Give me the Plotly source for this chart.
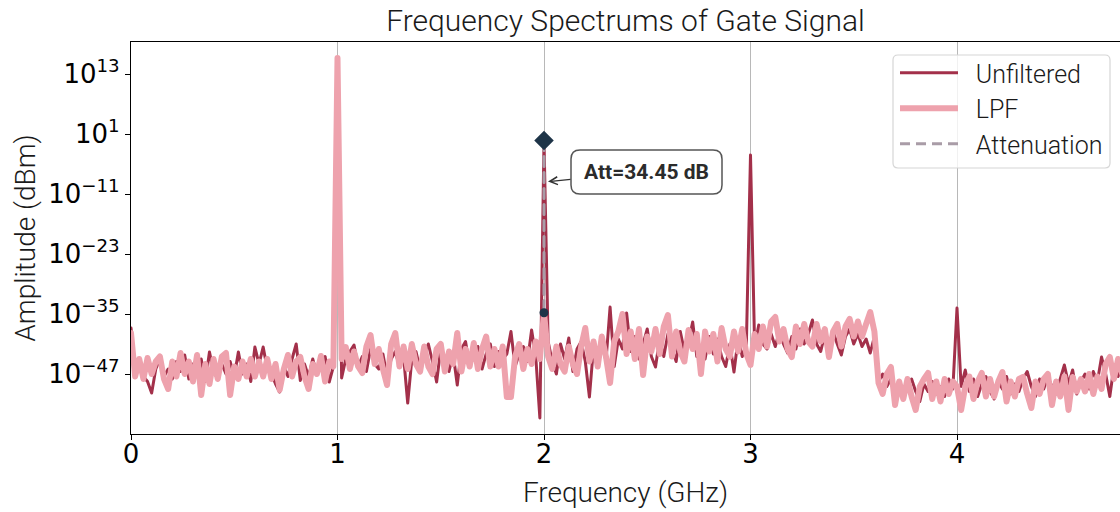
import plotly.graph_objects as go

# Spectrum sample spacing (GHz)
FREQ_STEP_GHZ = 0.02

# log10 of the amplitude, one value per frequency bin (0.00 ... 4.80 GHz),
# one row per 0.2 GHz
unfiltered_exp = [
    -37.8, -46.5, -45.0, -47.5, -48.5, -50.8, -46.0, -44.0, -47.5, -46.0,
    -48.0, -44.5, -46.5, -43.2, -48.0, -45.0, -47.0, -44.0, -48.5, -42.6,
    -46.5, -48.0, -45.0, -47.0, -44.5, -47.5, -42.6, -47.0, -45.0, -48.5,
    -41.6, -45.0, -41.6, -46.0, -47.0, -49.0, -50.6, -45.5, -47.5, -44.0,
    -41.0, -48.3, -45.0, -47.5, -44.0, -47.0, -45.0, -43.5, -48.6, -45.5,
    16.2, -47.8, -44.0, -42.5, -41.2, -45.5, -43.5, -46.5, -42.0, -45.0,
    -46.0, -43.0, -47.5, -44.0, -42.5, -45.5, -43.5, -52.8, -44.0, -42.5,
    -46.0, -43.0, -41.0, -44.5, -48.6, -42.0, -44.5, -46.5, -43.0, -49.2,
    -42.0, -40.5, -45.5, -43.5, -41.5, -46.0, -43.0, -41.0, -45.5, -42.5,
    -44.0, -43.0, -38.5, -45.5, -43.0, -41.5, -44.5, -38.2, -43.5, -55.8,
    -0.3, -40.5, -44.5, -47.0, -41.0, -44.0, -39.8, -46.5, -42.0, -40.5,
    -44.5, -51.6, -41.5, -43.5, -40.0, -44.5, -33.6, -45.5, -40.0, -42.0,
    -34.8, -42.5, -39.5, -44.0, -41.0, -38.0, -43.5, -45.6, -40.0, -43.5,
    -39.0, -42.0, -44.5, -38.5, -42.5, -40.5, -36.6, -43.5, -41.5, -44.0,
    -39.5, -43.0, -40.0, -43.5, -45.5, -41.0, -46.6, -40.0, -43.5, -41.0,
    -3.2, -41.5, -37.2, -41.0, -42.0, -39.0, -41.5, -38.5, -41.0, -42.8,
    -39.5, -42.0, -38.0, -41.0, -39.0, -36.2, -41.0, -42.5, -39.0, -41.5,
    -38.5, -41.0, -43.2, -39.5, -38.0, -41.0, -39.0, -41.5, -40.0, -42.8,
    -39.5, -48.5, -47.0, -49.5, -48.0, -50.5, -48.5, -51.8, -49.5, -48.0,
    -50.5, -52.5, -49.0, -50.5, -48.5, -51.0, -49.5, -51.5, -48.0, -50.0,
    -33.8, -49.5, -46.2, -50.5, -48.0, -51.5, -49.0, -47.5, -50.5, -52.0,
    -48.5, -50.0, -47.5, -51.0, -49.0, -50.5, -48.0, -46.5, -49.5, -51.5,
    -48.0, -50.0, -47.5, -49.5, -51.0, -48.0, -45.2, -49.0, -46.2, -51.0,
    -48.5, -47.0, -50.0, -46.5, -48.5, -43.6, -47.0, -51.5, -45.5, -47.5,
    -45.0,
]

lpf_exp = [
    -38.8, -47.5, -44.0, -48.0, -43.8, -47.0, -44.5, -43.5, -48.0, -50.0,
    -44.5, -47.5, -42.8, -47.0, -44.5, -48.5, -43.2, -51.2, -45.0, -49.0,
    -44.0, -48.0, -43.5, -42.8, -51.2, -45.5, -48.0, -44.5, -47.5, -44.0,
    -47.5, -44.5, -47.5, -44.0, -48.0, -45.0, -50.2, -46.0, -43.2, -47.5,
    -44.5, -43.6, -47.5, -50.0, -45.0, -47.0, -43.4, -48.5, -44.5, -45.5,
    16.2, -44.0, -41.6, -46.0, -42.5, -45.5, -46.8, -41.5, -39.2, -45.0,
    -42.0, -46.0, -49.2, -41.0, -38.8, -45.5, -41.5, -46.0, -41.0, -45.0,
    -46.5, -41.5, -45.5, -47.0, -42.0, -41.0, -46.5, -42.5, -45.0, -38.8,
    -46.5, -42.0, -45.5, -40.8, -46.0, -42.0, -39.5, -45.5, -42.0, -45.5,
    -41.5, -51.6, -51.6, -43.5, -41.0, -46.0, -42.0, -45.0, -40.5, -44.0,
    -34.75, -43.5, -46.0, -41.5, -45.0, -46.5, -41.5, -45.0, -47.0, -41.5,
    -37.8, -44.5, -40.5, -45.5, -39.5, -43.5, -48.8, -40.5, -38.5, -35.0,
    -43.0, -38.5, -44.0, -38.0, -47.2, -39.5, -42.5, -38.0, -43.0, -37.5,
    -35.2, -43.5, -38.5, -42.5, -44.5, -38.2, -42.0, -39.0, -47.0, -38.5,
    -42.5, -39.0, -44.5, -37.8, -42.0, -43.5, -38.5, -42.5, -38.0, -43.0,
    -45.2, -39.0, -42.0, -37.5, -41.5, -36.5, -35.6, -40.5, -38.0, -42.0,
    -43.6, -37.5, -41.0, -37.0, -40.5, -41.5, -37.0, -40.5, -38.0, -43.6,
    -38.5, -37.0, -41.5, -37.5, -36.0, -39.5, -36.5, -39.5, -37.0, -34.6,
    -38.5, -48.8, -51.0, -47.0, -45.6, -53.2, -48.5, -52.0, -48.0, -51.5,
    -54.2, -49.5, -48.0, -46.8, -52.0, -48.5, -52.5, -48.0, -51.0, -48.5,
    -49.5, -54.2, -49.5, -47.5, -52.0, -48.5, -46.8, -51.5, -48.0, -51.5,
    -48.5, -46.6, -52.5, -48.5, -51.5, -48.0, -47.6, -51.0, -53.8, -48.5,
    -51.0, -48.0, -47.0, -53.2, -48.5, -51.5, -47.5, -54.2, -47.6, -50.5,
    -48.0, -50.5, -47.0, -51.0, -47.5, -50.0, -45.0, -43.6, -48.0, -44.0,
    -47.0,
]

freq_ghz = [round(i * FREQ_STEP_GHZ, 2) for i in range(len(unfiltered_exp))]

# Frequency at which the filter attenuation is measured
att_freq = 2.0

# Axis ticks
ytick_exps = [13, 1, -11, -23, -35, -47]
xtick_vals = [0, 1, 2, 3, 4]

unfiltered = [10.0 ** e for e in unfiltered_exp]
lpf = [10.0 ** e for e in lpf_exp]

att_idx = freq_ghz.index(att_freq)
att_top = unfiltered[att_idx]
att_bottom = lpf[att_idx]
att_db = unfiltered_exp[att_idx] - lpf_exp[att_idx]

C_UNF = "#A3304A"
C_LPF = "#EEA2AD"
C_ATT = "#A99CA7"
C_MARK = "#1E3448"
TXT_FONT = "Roboto"
TICK_FONT = "DejaVu Sans"

W, H = 1120, 512
M_L, M_R, M_T, M_B = 131, 0, 42, 78
PW, PH = W - M_L - M_R, H - M_T - M_B


def px_to_paper(x, y):
    return (x - M_L) / PW, (H - M_B - y) / PH


def rounded_rect(x0, y0, x1, y1, r):
    """Rounded rectangle path in paper coordinates from pixel corners."""
    ax0, ay0 = px_to_paper(x0, y0)
    ax1, ay1 = px_to_paper(x1, y1)
    rx, ry = r / PW, r / PH
    parts = [
        f"M{ax0 + rx},{ay0}",
        f"L{ax1 - rx},{ay0}",
        f"Q{ax1},{ay0} {ax1},{ay0 - ry}",
        f"L{ax1},{ay1 + ry}",
        f"Q{ax1},{ay1} {ax1 - rx},{ay1}",
        f"L{ax0 + rx},{ay1}",
        f"Q{ax0},{ay1} {ax0},{ay1 + ry}",
        f"L{ax0},{ay0 - ry}",
        f"Q{ax0},{ay0} {ax0 + rx},{ay0}",
        "Z",
    ]
    return " ".join(parts)


fig = go.Figure()

fig.add_trace(go.Scatter(
    x=freq_ghz, y=unfiltered, mode="lines", name="\u2002Unfiltered",
    line=dict(color=C_UNF, width=3, simplify=False),
))
fig.add_trace(go.Scatter(
    x=freq_ghz, y=lpf, mode="lines", name="\u2002LPF",
    line=dict(color=C_LPF, width=6, simplify=False),
))
fig.add_trace(go.Scatter(
    x=[att_freq, att_freq], y=[att_top, att_bottom], mode="lines",
    name="\u2002Attenuation",
    line=dict(color=C_ATT, width=3, dash="10px,6px"),
))
fig.add_trace(go.Scatter(
    x=[att_freq], y=[att_top], mode="markers", showlegend=False,
    marker=dict(symbol="diamond", size=15, color=C_MARK),
))
fig.add_trace(go.Scatter(
    x=[att_freq], y=[att_bottom], mode="markers", showlegend=False,
    marker=dict(symbol="circle", size=9, color=C_MARK),
))

# Label box pointing at the attenuation line
label_y_exp = -8.6
fig.add_annotation(
    x=att_freq, y=label_y_exp, xref="x", yref="y",
    text=f"<b>Att={att_db:.2f} dB</b>",
    font=dict(family=TXT_FONT, size=21, color="#2b2b2b"),
    showarrow=True, arrowhead=5, arrowsize=1.3, arrowwidth=1.2,
    arrowcolor="#333333", ax=102, ay=-10, standoff=4,
    width=147, height=40, borderpad=2, borderwidth=0,
    bgcolor="rgba(0,0,0,0)",
)

axis_title_font = dict(family=TXT_FONT, size=28, color="#1a1a1a", weight=300)

shapes = [
    dict(type="path", xref="paper", yref="paper",
         path=rounded_rect(571, 150, 722, 194, 9),
         line=dict(color="#555555", width=1.5), fillcolor="white",
         layer="above"),
    dict(type="path", xref="paper", yref="paper",
         path=rounded_rect(893, 55, 1110, 168, 5),
         line=dict(color="#d6d6d6", width=1.2),
         fillcolor="rgba(255,255,255,0.8)", layer="above"),
]

fig.update_layout(
    width=W, height=H,
    margin=dict(l=M_L, r=M_R, t=M_T, b=M_B, pad=0),
    plot_bgcolor="white", paper_bgcolor="white",
    title=dict(text="Frequency Spectrums of Gate Signal",
               x=0.5, xref="paper", xanchor="center",
               y=1 - 20 / H, yref="container", yanchor="middle",
               font=dict(family=TXT_FONT, size=30, color="#1a1a1a", weight=300)),
    shapes=shapes,
    showlegend=True,
    legend=dict(
        x=px_to_paper(895, 0)[0], y=px_to_paper(0, 50)[1],
        xanchor="left", yanchor="top",
        bgcolor="rgba(0,0,0,0)", borderwidth=0,
        font=dict(family=TXT_FONT, size=25, color="#1a1a1a", weight=300),
        itemwidth=58, traceorder="normal",
    ),
    xaxis=dict(
        range=[0, PW / 206.5], tickvals=xtick_vals,
        ticktext=[str(v) for v in xtick_vals],
        showgrid=True, gridcolor="#b8b8b8", gridwidth=1,
        zeroline=False, showline=True, linecolor="black", linewidth=1.3,
        mirror=True, ticks="outside", ticklen=5, tickcolor="black",
        ticklabelstandoff=-8,
        tickfont=dict(family=TICK_FONT, size=26, color="black"),
        title=dict(text="Frequency (GHz)", standoff=14, font=axis_title_font),
    ),
    yaxis=dict(
        type="log", range=[-59, 19.4],
        tickvals=[10.0 ** e for e in ytick_exps],
        ticktext=[f"10<sup>{str(e).replace('-', '−')}</sup>" for e in ytick_exps],
        showgrid=False, zeroline=False, showline=True, linecolor="black",
        linewidth=1.3, ticks="outside", ticklen=5, tickcolor="black",
        ticklabelstandoff=0,
        tickfont=dict(family=TICK_FONT, size=26, color="black"),
        title=dict(text="Amplitude (dBm)", standoff=4, font=axis_title_font),
    ),
)

# Round line joins so thick noisy traces get smooth peaks
ROUND_JOIN_JS = """
var st = document.createElement('style');
st.textContent = '.scatterlayer .js-line {stroke-linejoin: round !important; stroke-linecap: round !important;}';
document.head.appendChild(st);
"""

fig.write_html("out.html", post_script=ROUND_JOIN_JS)
